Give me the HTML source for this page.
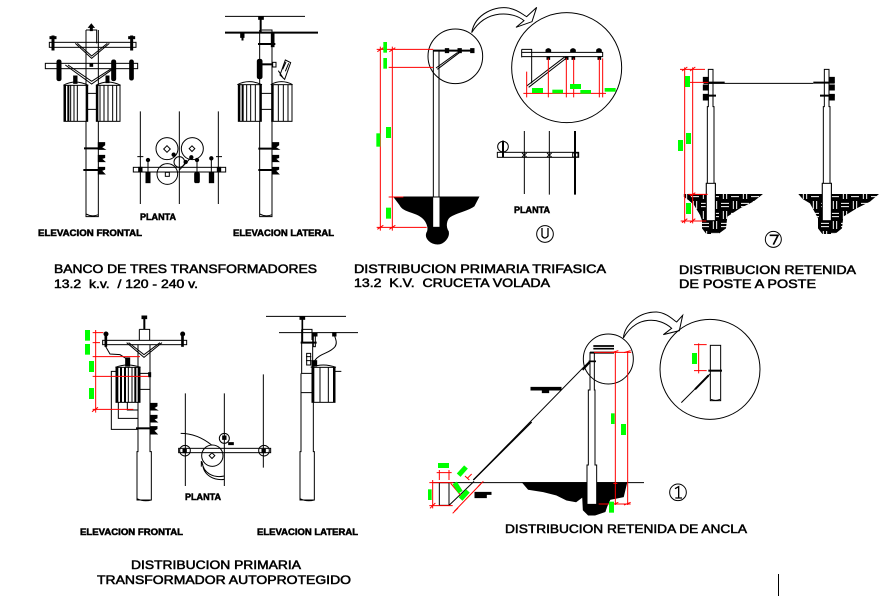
<!DOCTYPE html>
<html><head><meta charset="utf-8"><style>
html,body{margin:0;padding:0;background:#fff}
svg{display:block}
text{font-family:"Liberation Sans",sans-serif;fill:#000;stroke:#000;stroke-width:.5}
.z{fill:none;stroke:#000;stroke-width:3}
.z .f{fill:#000}
.z .w{fill:#fff}
.z .r{stroke:#f00;fill:none}
.z .t{stroke-width:6}
.z .h{fill:url(#weave);stroke:none}
</style></head><body>
<svg width="894" height="596" viewBox="0 0 894 596" xmlns="http://www.w3.org/2000/svg">
<defs>
<pattern id="weave" width="60" height="60" patternUnits="userSpaceOnUse">
<rect width="60" height="60" fill="#000"/>
<path d="M3 10H27M3 20H27M40 3V27M50 3V27M10 33V57M20 33V57M33 40H57M33 50H57" stroke="#fff" stroke-width="3" fill="none"/>
</pattern>
</defs>
<rect width="894" height="596" fill="#fff"/>

<!-- Banco top-left, zoom coords -->
<g class="z" transform="translate(30,10) scale(.33333)">
<path d="M168 60H200V100M168 60V620H205V60M168 612q18 10 37 2"/>
<path class="f" d="M184 42l8 10h-5v10h-6V52h-5z"/>
<rect x="58" y="97" width="260" height="15"/>
<path d="M136 100L185 145L238 100M142 100L185 138L232 100" />
<rect x="46" y="160" width="277" height="16"/>
<path d="M106 165L185 222L250 176M114 165L185 214L244 176"/>
<rect class="f" x="180" y="161" width="8" height="8"/>
<g class="f">
<rect x="66" y="78" width="6" height="42"/><rect x="60" y="80" width="18" height="6"/>
<rect x="302" y="78" width="6" height="42"/><rect x="296" y="80" width="18" height="6"/>
<rect x="81" y="150" width="12" height="62" rx="5"/>
<rect x="245" y="150" width="12" height="62" rx="5"/>
<rect x="299" y="150" width="11" height="60" rx="5"/>
<rect x="131" y="198" width="10" height="22"/>
<rect x="228" y="198" width="9" height="20"/>
</g>
<g>
<rect class="w" x="102" y="226" width="71" height="108"/>
<rect class="w" x="199" y="226" width="71" height="108"/>
<path class="t" d="M105 226V334M115 226V334M170 226V334M202 226V334"/>
<path d="M122 226V334M132 226V334M142 226V334M210 226V334M222 226V334M234 226V334M248 226V334M260 226V334"/>
<path d="M100 226q35-20 75 0M198 226q35-20 74 0"/>
<path d="M173 250H199M173 298H199"/>
</g>
<path class="t" d="M162 415H205M160 480H205"/>
<g class="f"><path d="M205 398H224V405L214 412L224 418H205zM205 436H224V443L214 446L224 455H205zM205 472H224V478L214 482L224 492H205z"/></g>

<!-- planta -->
<path d="M331 304V582M448 304V582M565 304V582"/>
<rect x="310" y="472" width="277" height="14"/>
<path d="M322 440H340M558 440H576"/>
<path class="f" d="M326 472h10v14h-10zM562 472h10v14h-10z"/>
<circle cx="411" cy="416" r="33"/><circle cx="487" cy="416" r="33"/><circle cx="412" cy="492" r="31"/>
<circle cx="448" cy="456" r="16"/>
<rect x="404" y="410" width="14" height="14" transform="rotate(45 411 417)"/>
<rect x="480" y="410" width="12" height="12" transform="rotate(45 486 416)"/>
<rect x="406" y="487" width="12" height="12"/>
<g class="f"><rect x="348" y="488" width="12" height="30"/><rect x="494" y="488" width="14" height="30" rx="4"/><rect x="538" y="488" width="13" height="30"/>
<circle cx="354" cy="450" r="5"/><circle cx="501" cy="450" r="5"/><circle cx="544" cy="445" r="5"/>
<circle cx="431" cy="434" r="5"/><circle cx="484" cy="442" r="5"/><circle cx="467" cy="456" r="5"/></g>
<path d="M354 450V490M501 450V490M544 445V490M448 480L484 442"/>

<!-- lateral -->
<path d="M585 19H825"/><path class="t" d="M585 68H864"/>
<path d="M689 60V620H726V60H695"/><path d="M689 612q18 10 37 2"/>
<rect class="f" x="686" y="20" width="14" height="8"/><path class="t" d="M692 20V68"/>
<path class="f" d="M632 70h10v12h-3v8h-3v-8h-4z"/>
<path class="t" d="M684 102H736"/>
<rect class="f" x="724" y="70" width="8" height="40"/>
<rect class="f" x="682" y="148" width="14" height="58" rx="5"/>
<path class="t" d="M696 163H738"/><rect class="w" x="728" y="157" width="10" height="14"/>
<path d="M750 195L766 150L782 158L764 208zM758 178L768 156M766 184L776 160M745 182L760 205"/>
<rect class="w" x="625" y="224" width="69" height="110"/>
<rect class="w" x="725" y="224" width="61" height="110"/>
<path class="t" d="M628 224V334M638 224V334M691 224V334M728 224V334"/>
<path d="M650 224V334M662 224V334M676 224V334M745 224V334M760 224V334M774 224V334"/>
<path d="M622 224q35-18 74 0M722 224q32-18 66 0"/>
<path d="M694 250H725M694 298H725"/>
<path class="t" d="M685 416H726M685 480H726"/>
<path class="f" d="M726 398H746V405L736 412L746 418H726zM726 436H746V443L736 446L746 455H726zM726 472H746V478L736 482L746 492H726z"/>
</g>

<!-- Primaria trifasica -->
<g class="z" transform="translate(370,0) scale(.33333)">
<path class="f" d="M72 591H326L312 618C295 632 260 636 240 650C228 660 225 680 235 695C238 712 222 732 203 732C182 732 165 715 170 700C180 685 170 660 150 648C130 635 100 635 90 615z"/>
<path d="M190 150V590M207 150V590"/>
<rect class="w" x="188" y="591" width="22" height="91" style="stroke:#000"/>
<path class="t" d="M190 152H312"/>
<path d="M198 204L262 158"/><path d="M202 208L268 158"/>
<path class="f" d="M226 146h10v12h-10zM264 146h10v12h-10zM302 146h10v12h-10z"/>
<path d="M305 98C315 40 380 15 420 25C445 30 460 45 470 50L500 22L486 65L438 82L462 62C430 35 350 25 305 98"/>
<circle cx="256" cy="169" r="82"/>
<path class="r" d="M31 140V692M67 140V692M20 148H190M56 202H190M56 591H100M20 682H170M22 688L40 676M58 688L76 676M58 155L76 143M22 155L40 143"/>
<g style="fill:#0f0;stroke:none"><rect x="48" y="381" width="15" height="33"/><rect x="48" y="623" width="15" height="33"/><rect x="19" y="400" width="12" height="40"/><rect x="40" y="126" width="11" height="32"/><rect x="40" y="174" width="11" height="32"/></g>
<!-- detail circle -->
<circle cx="590" cy="203" r="165"/>
<path d="M455 148H485V250M455 148V172M455 157H698V170H455"/>
<path d="M470 258L585 170M476 262L592 172"/>
<path class="f" d="M528 150q7-8 14 0v6h-14zM602 150q7-8 14 0v6h-14zM680 150q7-8 14 0v6h-14zM531 170h8v8h-8zM586 170h8v8h-8zM606 170h8v8h-8zM684 170h8v8h-8z"/>
<path class="r" d="M470 215V292M535 175V292M589 175V292M611 175V292M688 175V292M698 175V292M460 280H708"/>
<g style="fill:#0f0;stroke:none"><rect x="486" y="264" width="33" height="15"/><rect x="600" y="252" width="33" height="15"/><rect x="547" y="269" width="32" height="11"/><rect x="631" y="270" width="32" height="11"/><rect x="704" y="264" width="33" height="11"/></g>
<!-- planta -->
<rect x="382" y="457" width="244" height="15"/>
<circle cx="399" cy="440" r="16"/>
<path class="t" d="M399 422V472M615 393V584"/>
<path d="M463 393V582M538 393V584"/>
<path d="M456 459L470 471M470 459L456 471M531 459L545 471M545 459L531 471M608 459H624V471H608z"/>
<circle cx="525" cy="702" r="25"/>
<path d="M516 684V708q8 12 18 0V684" stroke-width="4"/>
</g>

<!-- Poste a poste -->
<g class="z" transform="translate(640,60) scale(.33333)">
<path class="h" d="M130 402H369L340 425L300 445L262 470L258 505L235 522H199L186 505V482L180 465L162 435L145 420L130 410z"/>
<path class="h" d="M475 402H717L690 425L650 445L610 470L606 505L585 522H547L534 505V475L510 430L488 417z"/>
<path d="M205 28H219V140H222V370H226V482H199V370H202V140H205z"/>
<path d="M553 28H567V140H570V370H574V482H547V370H550V140H553z"/>
<path d="M192 70H520"/><path class="t" d="M190 68H254M520 68H584M190 107H228M540 107H584"/>
<path class="f" d="M190 52H205V67H190zM190 75H205V90H190zM190 103H205V120H190zM567 52H583V67H567zM567 75H583V90H567zM567 103H583V120H567z"/>
<rect class="w" x="199" y="370" width="27" height="112" style="stroke:#000"/>
<rect class="w" x="547" y="370" width="27" height="112" style="stroke:#000"/>
<path class="r" d="M134 22V490M158 22V490M120 28H195M145 67H205M145 403H203M122 483H199M126 488L142 476M150 488L166 476M126 33L142 21M150 33L166 21M150 408L166 398"/>
<g style="fill:#0f0;stroke:none"><rect x="135" y="48" width="15" height="33"/><rect x="138" y="219" width="15" height="33"/><rect x="114" y="240" width="15" height="33"/><rect x="138" y="429" width="15" height="33"/></g>
<circle cx="400" cy="538" r="24"/>
<path d="M389 526H414L400 554" stroke-width="5"/>
</g>

<!-- Primaria autoprotegido -->
<g class="z" transform="translate(70,310) scale(.33333)">
<path d="M208 58H239V90M208 58V90M204 105V425H201V570H244V425H240V105M201 566q20 10 43 4"/>
<path class="t" d="M223 22V58"/><path class="f" d="M216 18h14v8h-14z"/>
<rect x="98" y="91" width="252" height="13"/>
<path d="M170 98L222 142L276 98M176 98L222 134L270 98"/>
<g class="f"><circle cx="108" cy="72" r="6"/><circle cx="338" cy="72" r="6"/><rect x="105" y="74" width="5" height="35"/><rect x="335" y="74" width="5" height="35"/></g>
<path d="M106 108L120 132L150 134L172 148"/>
<rect class="f" x="167" y="144" width="12" height="24"/>
<rect class="w" x="138" y="172" width="72" height="105"/>
<path class="t" d="M142 172V277M153 172V277M165 172V277M196 172V277M206 172V277"/>
<path d="M175 172V277M186 172V277"/>
<path d="M136 172q36-14 76 0"/>
<path d="M204 190H241M204 238H241"/>
<path d="M138 184H124V358H204M145 277V325H204M172 277V300H204"/>
<path class="t" d="M198 355H243"/><rect class="f" x="236" y="188" width="6" height="12"/>
<path class="f" d="M241 280H261V288L251 294L261 300H241zM241 316H261V324L251 328L261 336H241zM241 350H261V356L251 362L261 372H241z"/>
<path class="r" d="M77 60V308M68 68H100M68 98H90M68 140H210M68 199H235M68 298H190M66 305L84 292"/>
<g style="fill:#0f0;stroke:none"><rect x="45" y="60" width="15" height="32"/><rect x="45" y="102" width="15" height="32"/><rect x="57" y="153" width="15" height="33"/><rect x="57" y="234" width="15" height="33"/></g>

<!-- planta -->
<path d="M346 250V528M463 250V528M580 193V473"/>
<rect x="326" y="415" width="276" height="13"/>
<circle cx="345" cy="422" r="16"/><circle cx="582" cy="422" r="16"/><circle cx="463" cy="385" r="15"/>
<rect class="f" x="339" y="418" width="10" height="10"/><rect class="f" x="576" y="418" width="10" height="10"/>
<circle cx="427" cy="437" r="32"/>
<rect x="420" y="431" width="12" height="12" transform="rotate(45 426 437)"/>
<path d="M332 370C370 370 400 385 425 405"/>
<path class="f" d="M458 378h10v10h-10zM476 398h14v6h-14z"/>
<path d="M396 455C400 490 430 505 463 498M398 462C400 498 435 512 463 508M394 453V470"/>

<!-- lateral -->
<path d="M588 19H828M627 68H864"/>
<path d="M695 58H726V90M695 58V190M693 190V425H690V570H733V425H730V190M728 70V170M690 566q20 10 43 4"/>
<rect class="f" x="690" y="20" width="14" height="8"/><path d="M697 22V98" stroke-width="5"/>
<path class="t" d="M692 98H740"/>
<rect class="f" x="727" y="70" width="14" height="8"/><rect x="730" y="75" width="6" height="35"/>
<path d="M710 130H722V165H710zM708 140H724M708 152H724"/>
<rect class="w" x="726" y="172" width="69" height="105"/>
<path class="t" d="M730 172V277M792 172V277"/>
<path d="M750 172V277M775 172V277"/>
<path d="M722 172q38-14 76 0M795 184H814"/>
<rect class="f" x="726" y="152" width="14" height="16"/><rect class="f" x="788" y="68" width="10" height="10"/>
<path d="M734 152C748 130 780 130 795 110C802 100 798 90 794 78"/>
<path d="M694 190H726M694 248H726"/>
</g>

<!-- Retenida ancla -->
<g class="z" transform="translate(410,310) scale(.33333)">
<path d="M68 518H702"/>
<path class="f" d="M338 518H650L640 560L600 568L590 590L585 605L555 615H535L520 600L518 560L498 575L470 570L440 555L400 545L355 538z"/>
<path d="M540 128V240H535V465H531V583H560V465H555V240H553V128z" class="w"/>
<path d="M540 128H612" stroke-width="6"/>
<path d="M550 108H612M550 116H612" stroke-width="5"/>
<path d="M540 152L190 510"/><path d="M365 336L190 510" stroke-width="4"/>
<path d="M518 180L540 156" stroke-width="5"/>
<path d="M536 154H558" stroke-width="5"/>
<circle cx="595" cy="147" r="75"/>
<path d="M640 84C645 40 690 5 740 6C770 8 790 30 800 36L818 16L808 62L760 74L785 55C750 22 680 15 640 84"/>
<circle cx="900" cy="178" r="150"/>
<rect x="901" y="106" width="31" height="166"/>
<path d="M903 268q14 6 27 0"/>
<path class="t" d="M895 182H936"/>
<path d="M814 278L900 192"/><path d="M855 238L896 196" stroke-width="6"/>
<path class="r" d="M866 100V190M852 104H890M852 182H890"/>
<rect style="fill:#0f0;stroke:none" x="846" y="129" width="15" height="33"/>
<path class="f" d="M363 232H453V240H416V248H397V240H363zM195 547H243V553H229V563H195z"/>
<rect x="88" y="518" width="29" height="68"/>
<path d="M117 586L192 514"/>
<path class="r" d="M616 125V585M653 125V585M552 127H664M610 520H622M566 582H662M68 510V595M58 518H130M58 587H128M88 480V510M117 480V510M80 488H125M133 604L212 522M122 520L152 556M172 505L185 492M165 498L178 510"/>
<path d="M605 128l20-6M605 585l20-8M642 128l20-6M642 585l20-8M60 595l16-16M128 610l16-16M204 530l16-16" style="stroke:#f00"/>
<g style="fill:#0f0;stroke:none"><rect x="633" y="342" width="15" height="33"/><rect x="597" y="575" width="15" height="33"/><rect x="603" y="310" width="11" height="32"/><rect x="84" y="459" width="33" height="15"/><rect x="54" y="538" width="11" height="32"/>
<rect x="141" y="476" width="33" height="15" transform="rotate(-48 157 484)"/>
<rect x="127" y="525" width="33" height="15" transform="rotate(58 143 532)"/>
<rect x="146" y="548" width="33" height="15" transform="rotate(-48 162 555)"/></g>
<circle cx="804" cy="547" r="25"/>
<path d="M795 536L806 530V564M796 564H816" stroke-width="4"/>
</g>

<path d="M778.500 574V596" stroke="#000" stroke-width="1"/>

<!-- Labels -->
<g style="font-size:9px;font-weight:bold">
<text x="38" y="236" textLength="104" lengthAdjust="spacingAndGlyphs">ELEVACION FRONTAL</text>
<text x="233" y="236" textLength="101" lengthAdjust="spacingAndGlyphs">ELEVACION LATERAL</text>
<text x="140" y="220" textLength="36" lengthAdjust="spacingAndGlyphs">PLANTA</text>
<text x="514" y="213" textLength="36" lengthAdjust="spacingAndGlyphs">PLANTA</text>
<text x="185" y="500" textLength="36" lengthAdjust="spacingAndGlyphs">PLANTA</text>
<text x="80" y="535" textLength="103" lengthAdjust="spacingAndGlyphs">ELEVACION FRONTAL</text>
<text x="257" y="535" textLength="101" lengthAdjust="spacingAndGlyphs">ELEVACION LATERAL</text>
</g>
<g style="font-size:12px">
<text x="54" y="273" textLength="263" lengthAdjust="spacingAndGlyphs">BANCO DE TRES TRANSFORMADORES</text>
<text x="54" y="288" textLength="144" lengthAdjust="spacingAndGlyphs" xml:space="preserve">13.2  k.v.  / 120 - 240 v.</text>
<text x="354" y="273" textLength="252" lengthAdjust="spacingAndGlyphs">DISTRIBUCION PRIMARIA TRIFASICA</text>
<text x="354" y="287" textLength="196" lengthAdjust="spacingAndGlyphs" xml:space="preserve">13.2  K.V.  CRUCETA VOLADA</text>
<text x="679" y="274" textLength="177" lengthAdjust="spacingAndGlyphs">DISTRIBUCION RETENIDA</text>
<text x="679" y="288" textLength="137" lengthAdjust="spacingAndGlyphs">DE POSTE A POSTE</text>
<text x="131" y="569" textLength="170" lengthAdjust="spacingAndGlyphs">DISTRIBUCION PRIMARIA</text>
<text x="97" y="584" textLength="254" lengthAdjust="spacingAndGlyphs">TRANSFORMADOR AUTOPROTEGIDO</text>
<text x="505" y="533" textLength="242" lengthAdjust="spacingAndGlyphs">DISTRIBUCION RETENIDA DE ANCLA</text>
</g>
</svg>
</body></html>
